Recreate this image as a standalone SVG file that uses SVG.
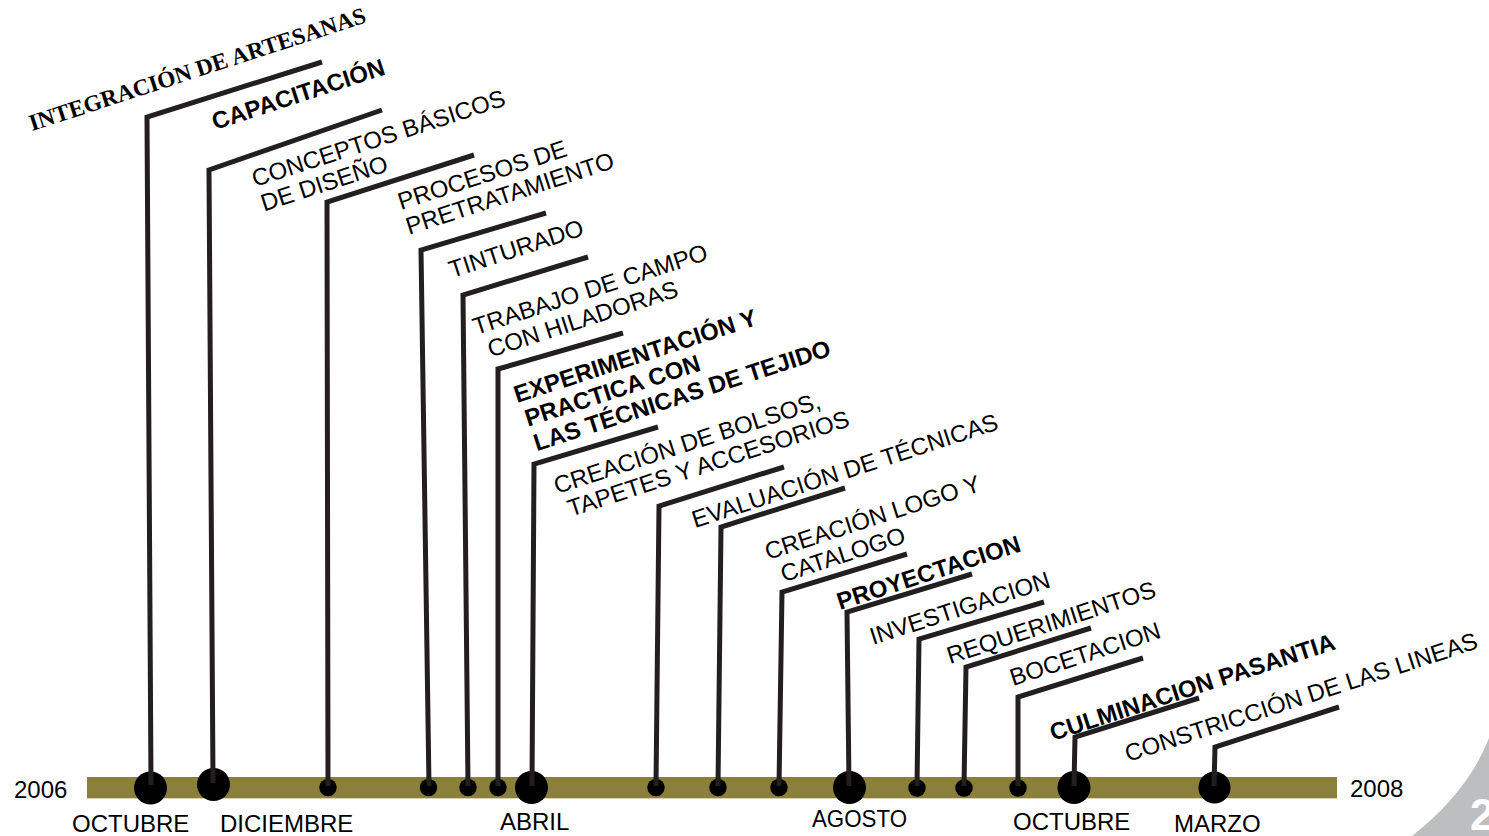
<svg xmlns="http://www.w3.org/2000/svg" width="1489" height="836" viewBox="0 0 1489 836">
<style>
.lbl{font-family:"Liberation Sans",Arial,sans-serif;font-size:24px;fill:#000}
.b{font-weight:bold}
.serif{font-family:"Liberation Serif","Times New Roman",serif;font-weight:bold;font-size:23.3px;fill:#000}
.big{fill:#000}
.sm{fill:#000}
.conn polyline{fill:none;stroke:#231f20;stroke-width:5;stroke-linejoin:miter;stroke-linecap:butt}
</style>
<rect width="1489" height="836" fill="#fff"/>
<path d="M1412,836 Q1468,792 1489,738 L1489,836 Z" fill="#bcbec0"/>
<text x="1470" y="830" font-family="Liberation Sans,Arial,sans-serif" font-size="44" font-weight="bold" fill="#fff">2</text>
<rect x="87" y="777" width="1250" height="21" fill="#8a7f3b"/>
<line x1="87" y1="798.5" x2="1337" y2="798.5" stroke="#d8d3b4" stroke-width="1"/>
<text class="lbl" x="14" y="798">2006</text>
<text class="lbl" x="1350" y="797">2008</text>
<text class="lbl" x="72" y="832">OCTUBRE</text>
<text class="lbl" x="220" y="832">DICIEMBRE</text>
<text class="lbl" x="500" y="830">ABRIL</text>
<text class="lbl" x="812" y="827" textLength="95" lengthAdjust="spacingAndGlyphs">AGOSTO</text>
<text class="lbl" x="1013" y="830">OCTUBRE</text>
<text class="lbl" x="1174" y="832">MARZO</text>

<g id="n1"><circle class="big" cx="150.5" cy="788" r="16.5"/><text class="serif" transform="translate(32,131) rotate(-18)">INTEGRACIÓN DE ARTESANAS</text></g>
<g id="n2"><circle class="big" cx="213.5" cy="784.5" r="16.5"/><text class="lbl b" transform="translate(215,130) rotate(-18)">CAPACITACIÓN</text></g>
<g id="n3"><circle class="sm" cx="328" cy="787.5" r="8.7"/><text class="lbl" transform="translate(255,187) rotate(-18)"><tspan x="0" y="0">CONCEPTOS BÁSICOS</tspan><tspan x="1" y="26">DE DISEÑO</tspan></text></g>
<g id="n4"><circle class="sm" cx="428.5" cy="787.5" r="8.7"/><text class="lbl" transform="translate(401,210) rotate(-18)"><tspan x="0" y="0">PROCESOS DE</tspan><tspan x="0" y="26">PRETRATAMIENTO</tspan></text></g>
<g id="n5"><circle class="sm" cx="468" cy="787.5" r="8.7"/><text class="lbl" transform="translate(452,278) rotate(-18)">TINTURADO</text></g>
<g id="n6"><circle class="sm" cx="498" cy="787.5" r="8.7"/><text class="lbl" transform="translate(476,335) rotate(-18)"><tspan x="0" y="0">TRABAJO DE CAMPO</tspan><tspan x="7" y="26">CON HILADORAS</tspan></text></g>
<g id="n7"><circle class="big" cx="531.5" cy="787.5" r="16.5"/><text class="lbl b" transform="translate(517,403) rotate(-18)"><tspan x="0" y="0">EXPERIMENTACIÓN Y</tspan><tspan x="3" y="26">PRACTICA CON</tspan><tspan x="4" y="52">LAS TÉCNICAS DE TEJIDO</tspan></text></g>
<g id="n8"><circle class="sm" cx="656" cy="787.5" r="8.7"/><text class="lbl" transform="translate(557,494) rotate(-18)"><tspan x="0" y="0">CREACIÓN DE BOLSOS,</tspan><tspan x="6" y="26">TAPETES Y ACCESORIOS</tspan></text></g>
<g id="n9"><circle class="sm" cx="718" cy="787.5" r="8.7"/><text class="lbl" transform="translate(695,528) rotate(-18)">EVALUACIÓN DE TÉCNICAS</text></g>
<g id="n10"><circle class="sm" cx="779" cy="787.5" r="8.7"/><text class="lbl" transform="translate(768,560) rotate(-18)"><tspan x="0" y="0">CREACIÓN LOGO Y</tspan><tspan x="8" y="26">CATALOGO</tspan></text></g>
<g id="n11"><circle class="big" cx="849.5" cy="787.5" r="16.5"/><text class="lbl b" transform="translate(840,610) rotate(-18)">PROYECTACION</text></g>
<g id="n12"><circle class="sm" cx="917" cy="788" r="8.7"/><text class="lbl" transform="translate(873,645) rotate(-18)">INVESTIGACION</text></g>
<g id="n13"><circle class="sm" cx="964" cy="788" r="8.7"/><text class="lbl" transform="translate(950,664) rotate(-18)">REQUERIMIENTOS</text></g>
<g id="n14"><circle class="sm" cx="1018" cy="788" r="8.7"/><text class="lbl" transform="translate(1013,686) rotate(-18)">BOCETACION</text></g>
<g id="n15"><circle class="big" cx="1074" cy="787.5" r="16.5"/><text class="lbl b" transform="translate(1053,741) rotate(-18)">CULMINACION PASANTIA</text></g>
<g id="n16"><circle class="big" cx="1214.5" cy="787.5" r="16"/><text class="lbl" transform="translate(1128,762) rotate(-18)">CONSTRICCIÓN DE LAS LINEAS</text></g>

<g id="connectors" class="conn">
<polyline points="151,785 147,117 322,62"/>
<polyline points="213,783 209,170 382,110"/>
<polyline points="328,786 327,202 474,155"/>
<polyline points="429,786 421,250 546,213"/>
<polyline points="468,786 463,295 588,257"/>
<polyline points="498,786 498,369 623,333"/>
<polyline points="532,786 534,464 658,427"/>
<polyline points="656,786 659,506 784,467"/>
<polyline points="718,786 721,527 845,488"/>
<polyline points="779,786 782,592 907,554"/>
<polyline points="849,786 847,612 972,574"/>
<polyline points="917,786 919,639 1044,602"/>
<polyline points="964,786 966,667 1091,628"/>
<polyline points="1018,786 1018,697 1143,658"/>
<polyline points="1074,786 1075,737 1199,698"/>
<polyline points="1214,786 1215,747 1339,707"/>
</g>
</svg>
